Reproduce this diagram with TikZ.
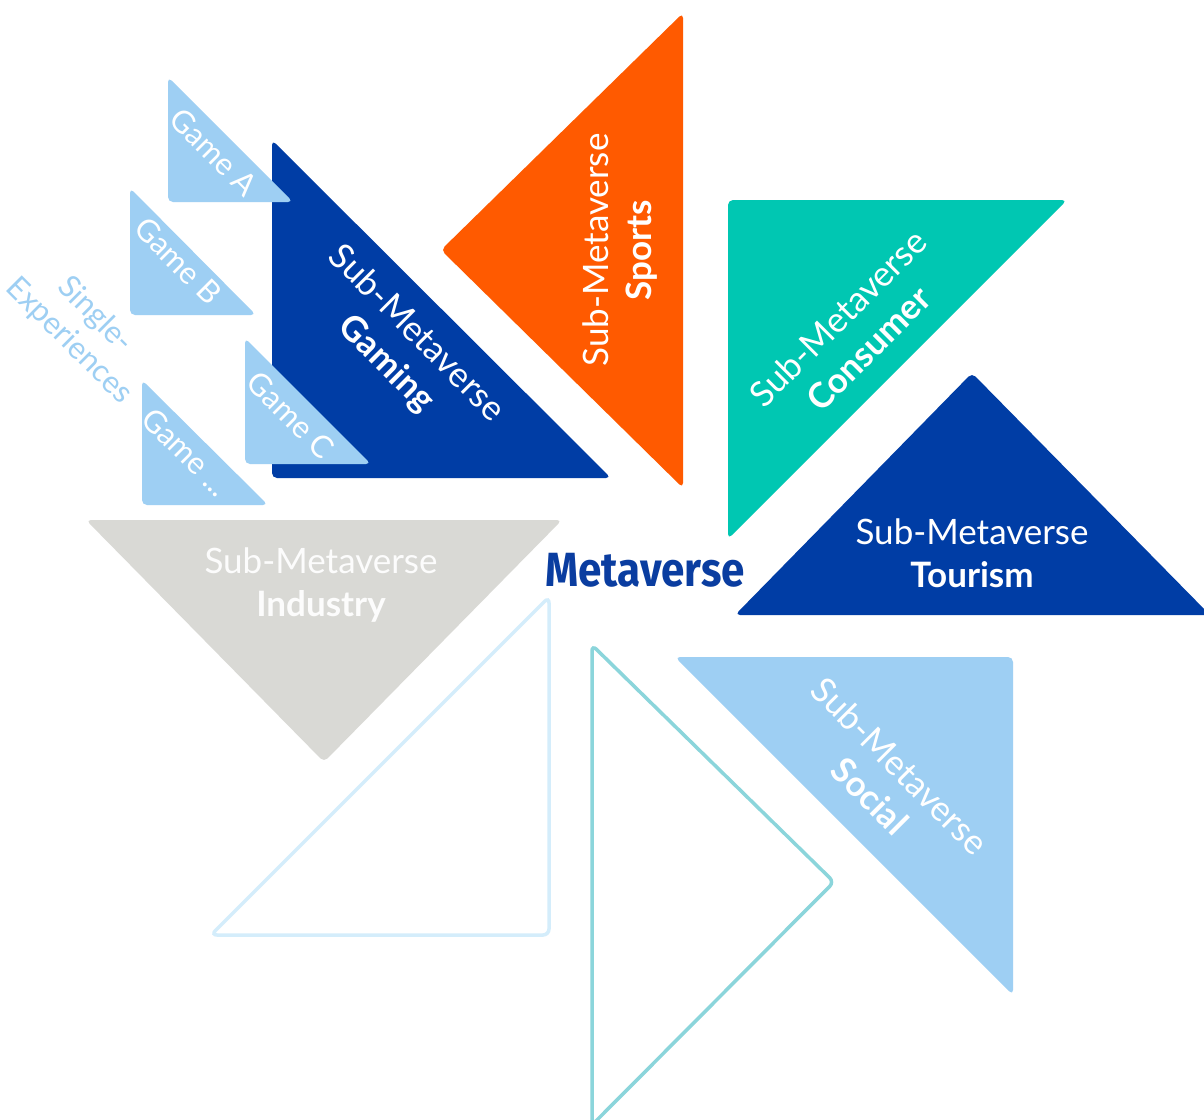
\documentclass[tikz,border=0pt]{standalone}
\usepackage{fontspec}
\usepackage{graphicx}
\setmainfont{Lato}
\newfontfamily\metafont{Fira Sans}
\definecolor{dkblue}{RGB}{0,61,165}
\definecolor{orng}{RGB}{255,90,0}
\definecolor{teal}{RGB}{0,199,178}
\definecolor{ltblue}{RGB}{158,207,243}
\definecolor{gry}{RGB}{217,217,213}
\definecolor{paleblue}{RGB}{212,237,251}
\definecolor{paleteal}{RGB}{139,213,219}
\definecolor{metablue}{RGB}{10,61,160}
\tikzset{
  tri/.style={rounded corners=5pt},
  outl/.style={line width=3.5pt, rounded corners=6pt},
  big/.style={align=center, text=white, inner sep=0pt, font=\fontsize{35}{43}\selectfont},
  small/.style={align=center, text=white, inner sep=0pt, font=\fontsize{31}{37}\selectfont},
}
\begin{document}
\begin{tikzpicture}[x=1pt, y=-1pt]
\clip (0,0) rectangle (1204,1119);
\fill[white] (0,0) rectangle (1204,1119);
% Gaming
\fill[dkblue, tri] (272,140) -- (272,478) -- (611,478) -- cycle;
% Games
\fill[ltblue, tri] (168,77) -- (168,202) -- (293,202) -- cycle;
\fill[ltblue, tri] (130,188) -- (130,315) -- (256,315) -- cycle;
\fill[ltblue, tri] (245,338) -- (245,464) -- (371,464) -- cycle;
\fill[ltblue, tri] (142,380) -- (142,505) -- (268,505) -- cycle;
% Sports
\fill[orng, tri] (683,13) -- (441,250) -- (683,488) -- cycle;
% Consumer
\fill[teal, tri] (728,200) -- (1067,200) -- (728,539) -- cycle;
% Tourism
\fill[dkblue, tri] (972,373) -- (1210,615) -- (735,615) -- cycle;
% Industry
\fill[gry, tri] (86,520) -- (562,520) -- (324,762) -- cycle;
% outlines
\draw[paleblue, outl] (549,597) -- (549,935) -- (211,935) -- cycle;
\draw[paleteal, outl] (592,645) -- (834,882) -- (592,1125) -- cycle;
% Social
\fill[ltblue, tri] (675,657) -- (1013,657) -- (1013,995) -- cycle;

% Texts
\node[big, rotate=-45] (gaming) at (401,349) {Sub-Metaverse\\\textbf{Gaming}};
\node[big, rotate=90] (sports) at (620,250) {Sub-Metaverse\\\textbf{Sports}};
\node[big, rotate=45] (consumer) at (853,333) {Sub-Metaverse\\\textbf{Consumer}};
\node[big] (tourism) at (972,553) {Sub-Metaverse\\\textbf{Tourism}};
\node[big, text=white!92!gry] (industry) at (321,585) {Sub-Metaverse\\\textbf{Industry}};
\node[big, rotate=-45] (social) at (885,781) {Sub-Metaverse\\\textbf{Social}};
\node[small, rotate=-45] (gamea) at (214,152) {Game A};
\node[small, rotate=-45] (gameb) at (178,261) {Game B};
\node[small, rotate=-45] (gamec) at (291,415) {Game C};
\node[small, rotate=-45] (gamed) at (186,452) {Game ...};
\node[small, rotate=-45, text=ltblue] (single) at (82,328) {Single-\\Experiences};
\node[inner sep=0pt, text=metablue] (meta) at (645,570) {\scalebox{0.88}[1]{\metafont\bfseries\fontsize{48}{50}\selectfont Metaverse}};
\end{tikzpicture}
\end{document}
